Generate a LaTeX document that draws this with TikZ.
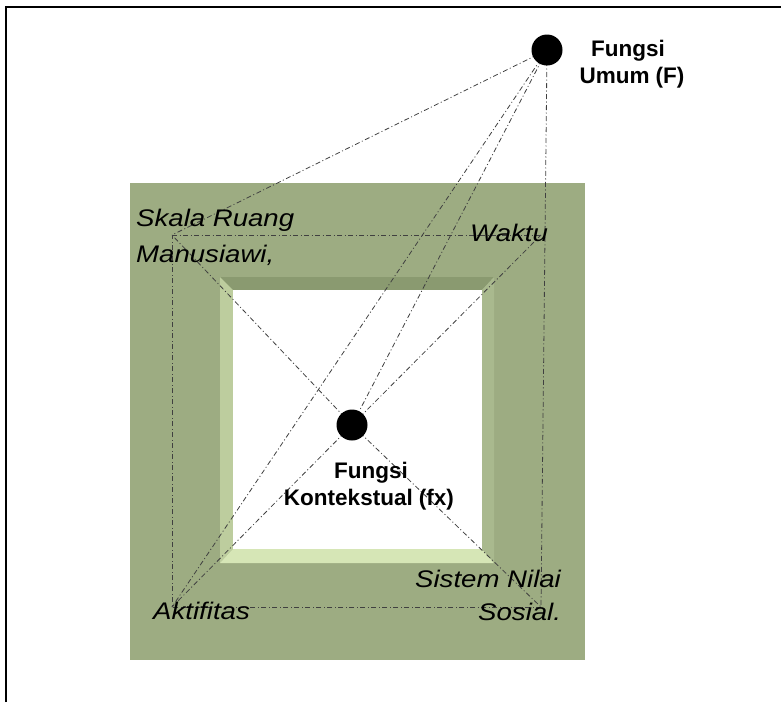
\documentclass[tikz,border=0pt]{standalone}
\usepackage{fontspec}
\setmainfont{Liberation Sans}
\newfontfamily\labfont[FakeStretch=1.15]{Liberation Sans}
\definecolor{frameg}{HTML}{9DAC82}
\definecolor{bevtop}{HTML}{8A9A70}
\definecolor{bevleft}{HTML}{BDCD9E}
\definecolor{bevbot}{HTML}{D6E6B6}
\definecolor{bevright}{HTML}{A9B98E}
\definecolor{linec}{HTML}{404040}
\begin{document}
\begin{tikzpicture}[x=1pt,y=-1pt,
  dd/.style={draw=linec,line width=0.8pt,dash pattern=on 5pt off 2.5pt on 1pt off 2.5pt},
  dot/.style={circle,fill=black,inner sep=0pt,minimum size=31pt},
  itl/.style={inner sep=0pt,font=\labfont\itshape\fontsize{24}{28}\selectfont},
  bld/.style={inner sep=0pt,font=\bfseries\fontsize{22.5}{27}\selectfont}]
\useasboundingbox (0,0) rectangle (781,702);
\draw[line width=2pt] (6,702) -- (6,7) -- (781,7);
% frame
\fill[frameg] (130,183) rectangle (585,660);
\fill[bevtop] (220,277) -- (494,277) -- (482,290) -- (233,290) -- cycle;
\fill[bevleft] (220,277) -- (233,290) -- (233,549) -- (220,563) -- cycle;
\fill[bevbot] (220,563) -- (233,549) -- (482,549) -- (494,563) -- cycle;
\fill[bevright] (494,277) -- (482,290) -- (482,549) -- (494,563) -- cycle;
\fill[white] (233,290) rectangle (482,549);
% corners
\coordinate (A) at (172,235);
\coordinate (B) at (541,235);
\coordinate (C) at (541,607);
\coordinate (D) at (172,607);
\coordinate (Fc) at (547,50);
\coordinate (fxc) at (352,425);
% lines
\draw[dd] (A) -- (B);
\draw[dd] (C) -- (D) -- (A);
\draw[dd] (Fc) -- (A);
\draw[dd] (Fc) -- (C);
\draw[dd] (Fc) -- (D);
\draw[dd] (Fc) -- (fxc);
\draw[dd] (fxc) -- (A);
\draw[dd] (fxc) -- (B);
\draw[dd] (fxc) -- (C);
\draw[dd] (fxc) -- (D);
% dots
\node[dot] (F) at (Fc) {};
\node[dot] (fx) at (fxc) {};
% labels
\node[bld,anchor=base] (F1) at (628,56) {Fungsi};
\node[bld,anchor=base] (F2) at (632,83) {Umum (F)};
\node[bld,anchor=base] (fx1) at (371,478) {Fungsi};
\node[bld,anchor=base] (fx2) at (369,505) {Kontekstual (fx)};
\node[itl,anchor=base west] (s1) at (136,226) {Skala Ruang};
\node[itl,anchor=base west] (s2) at (136,262) {Manusiawi,};
\node[itl,anchor=base west] (w) at (470,241) {Waktu};
\node[itl,anchor=base west] (n1) at (415,587) {Sistem Nilai};
\node[itl,anchor=base west] (n2) at (478,620) {Sosial.};
\node[itl,anchor=base west] (a) at (153,619) {Aktifitas};
\end{tikzpicture}
\end{document}
